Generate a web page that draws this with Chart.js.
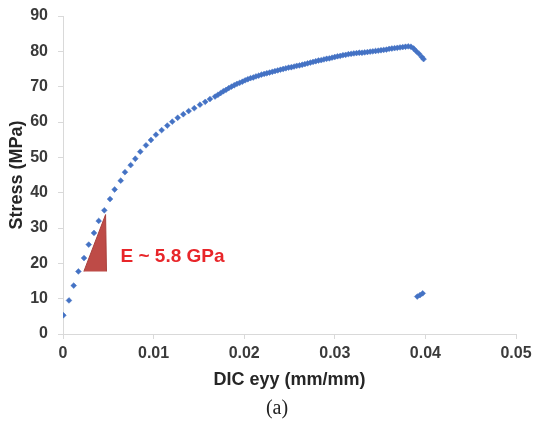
<!DOCTYPE html>
<html>
<head>
<meta charset="utf-8">
<script src="https://cdn.jsdelivr.net/npm/chart.js@4/dist/chart.umd.min.js"></script>
<style>
  html, body { margin: 0; padding: 0; background: #ffffff; }
  #wrap { width: 533px; height: 431px; position: relative; }
</style>
</head>
<body>
<div id="wrap"><canvas id="c" width="533" height="431"></canvas></div>
<script>
// ---- data ----
const strain = [
  0.00004, 0.00066, 0.00118, 0.0017, 0.00232, 0.00284, 0.00342, 0.00394, 0.00456, 0.00519,
  0.00570, 0.00637, 0.00684, 0.00747, 0.00798, 0.00853, 0.00916, 0.00971, 0.01026, 0.01089,
  0.01151, 0.01206, 0.01266, 0.01328, 0.01387, 0.01449, 0.01512, 0.0157, 0.01622, 0.01678,
  0.0171, 0.0174, 0.0177, 0.0180, 0.0183, 0.0186, 0.0189, 0.0192, 0.0195, 0.0198,
  0.0201, 0.0204, 0.0207, 0.0210, 0.0213, 0.0216, 0.0219, 0.0222, 0.0225, 0.0228,
  0.0231, 0.0234, 0.0237, 0.0240, 0.0243, 0.0246, 0.0249, 0.0252, 0.0255, 0.0258,
  0.0261, 0.0264, 0.0267, 0.0270, 0.0273, 0.0276, 0.0279, 0.0282, 0.0285, 0.0288,
  0.0291, 0.0294, 0.0297, 0.0300, 0.0303, 0.0306, 0.0309, 0.0312, 0.0315, 0.0318,
  0.0321, 0.0324, 0.0327, 0.0330, 0.0333, 0.0336, 0.0339, 0.0342, 0.0345, 0.0348,
  0.0351, 0.0354, 0.0357, 0.0360, 0.0363, 0.0366, 0.0369, 0.0372, 0.0375, 0.0378,
  0.0381, 0.0384, 0.0387, 0.0390, 0.0393, 0.0396, 0.0398,
  0.0391, 0.0394, 0.0397
];
const stress = [
  5.3, 9.5, 13.7, 17.7, 21.5, 25.3, 28.6, 32.0, 35.0, 38.2,
  40.9, 43.4, 45.8, 47.8, 49.6, 51.6, 53.4, 54.9, 56.4, 57.7,
  59.0, 60.1, 61.2, 62.2, 63.1, 63.9, 64.9, 65.7, 66.5, 67.2,
  67.7, 68.2, 68.7, 69.1, 69.6, 70.0, 70.4, 70.8, 71.1, 71.4,
  71.8, 72.1, 72.4, 72.6, 72.9, 73.1, 73.4, 73.6, 73.8, 74.0,
  74.2, 74.4, 74.6, 74.8, 75.0, 75.2, 75.4, 75.5, 75.7, 75.9,
  76.0, 76.2, 76.4, 76.6, 76.8, 77.0, 77.2, 77.4, 77.5, 77.7,
  77.9, 78.0, 78.2, 78.4, 78.6, 78.7, 78.9, 79.0, 79.2, 79.3,
  79.4, 79.5, 79.6, 79.6, 79.7, 79.8, 79.9, 80.0, 80.1, 80.2,
  80.3, 80.4, 80.5, 80.7, 80.8, 80.9, 81.0, 81.1, 81.2, 81.3,
  81.4, 81.3, 80.8, 80.0, 79.3, 78.4, 77.8,
  10.6, 11.0, 11.5
];
// slope triangle (modulus indicator)
const triStrain = [0.0023, 0.0047, 0.0048];
const triStress = [17.7, 33.8, 17.7];
const modulusLabel = 'E ~ 5.8 GPa';
const labelPos = { x: 0.00635, y: 21.8 };

const xTickLabels = ['0', '0.01', '0.02', '0.03', '0.04', '0.05'];
const yTickLabels = ['0', '10', '20', '30', '40', '50', '60', '70', '80', '90'];
const xTitle = 'DIC eyy (mm/mm)';
const yTitle = 'Stress (MPa)';
const caption = '(a)';

// ---- build datasets ----
const points = strain.map((x, i) => ({ x: x, y: stress[i] }));
const tri = triStrain.map((x, i) => ({ x: x, y: triStress[i] }));

const labelsPlugin = {
  id: 'labels',
  afterDatasetsDraw(chart) {
    const ctx = chart.ctx;
    const xs = chart.scales.x, ys = chart.scales.y;
    ctx.save();
    ctx.fillStyle = '#E8262A';
    ctx.font = 'bold 19px "Liberation Sans", Arial, sans-serif';
    ctx.textAlign = 'left';
    ctx.textBaseline = 'middle';
    ctx.fillText(modulusLabel, xs.getPixelForValue(labelPos.x), ys.getPixelForValue(labelPos.y));
    ctx.fillStyle = '#222222';
    ctx.font = '20px "Liberation Serif", "Times New Roman", serif';
    ctx.textAlign = 'center';
    ctx.textBaseline = 'middle';
    ctx.fillText(caption, 277, 409);
    ctx.restore();
  }
};

new Chart(document.getElementById('c'), {
  type: 'scatter',
  data: {
    datasets: [
      {
        type: 'line',
        data: tri,
        borderColor: '#A8403C',
        borderWidth: 1,
        backgroundColor: '#BE4B47',
        fill: { value: 17.7 },
        pointRadius: 0,
        tension: 0,
        order: 2
      },
      {
        data: points,
        pointStyle: 'rectRot',
        pointRadius: 2.9,
        pointBackgroundColor: '#4472C4',
        pointBorderColor: '#4472C4',
        pointBorderWidth: 0.5,
        order: 1
      }
    ]
  },
  options: {
    responsive: false,
    animation: false,
    events: [],
    layout: { padding: { top: 16, right: 17, bottom: 36, left: 2 } },
    plugins: { legend: { display: false }, tooltip: { enabled: false } },
    scales: {
      x: {
        type: 'linear',
        min: 0, max: 0.05,
        afterFit(scale) { scale.height = 61; scale.paddingLeft = 0; scale.paddingRight = 0; },
        ticks: {
          stepSize: 0.01,
          color: '#3a3a3a',
          font: { family: '"Liberation Sans", Arial, sans-serif', size: 16, weight: 'bold' },
          padding: 5,
          maxRotation: 0,
          callback: (v, i) => xTickLabels[i]
        },
        grid: { drawOnChartArea: false, drawTicks: true, tickLength: 5, color: '#d9d9d9' },
        border: { color: '#d9d9d9' },
        title: {
          display: true, text: xTitle, color: '#262626',
          font: { family: '"Liberation Sans", Arial, sans-serif', size: 18, weight: 'bold' },
          padding: { top: 4, bottom: 4 }
        }
      },
      y: {
        type: 'linear',
        min: 0, max: 90,
        afterFit(scale) { scale.width = 61; scale.paddingTop = 0; scale.paddingBottom = 0; },
        ticks: {
          stepSize: 10,
          color: '#3a3a3a',
          font: { family: '"Liberation Sans", Arial, sans-serif', size: 16, weight: 'bold' },
          padding: 10,
          callback: (v, i) => yTickLabels[i]
        },
        grid: { drawOnChartArea: false, drawTicks: true, tickLength: 5, color: '#d9d9d9' },
        border: { color: '#d9d9d9' },
        title: {
          display: true, text: yTitle, color: '#262626',
          font: { family: '"Liberation Sans", Arial, sans-serif', size: 18, weight: 'bold' },
          padding: { top: 4, bottom: 4 }
        }
      }
    }
  },
  plugins: [labelsPlugin]
});
</script>
</body>
</html>
